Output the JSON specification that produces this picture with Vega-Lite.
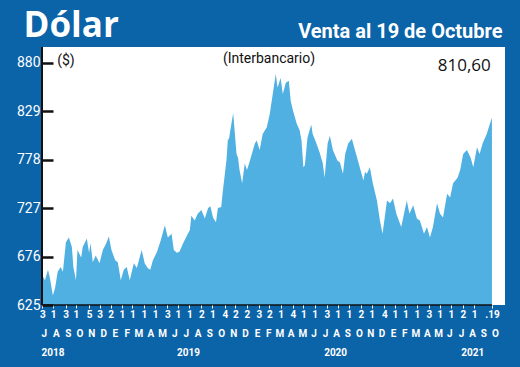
{
"$schema":"https://vega.github.io/schema/vega-lite/v6.json",
"width":463,"height":258,
"autosize":{"type":"none"},
"padding":{"left":42,"top":47,"right":15,"bottom":62},
"background":"#0b63a8",
"config":{"view":{"fill":"white","stroke":null},"axis":{"grid":false,"labelOverlap":false,"labelFlush":false}},
"encoding":{"y":{"field":"v","type":"quantitative","scale":{"domain":[625,896.5],"nice":false,"zero":false},
  "axis":{"values":[625,676,727,778,829,880],"title":null,"offset":-11,"tickSize":11,"tickWidth":2.5,"tickColor":"#111111","labelPadding":2,"labelColor":"white","labelFont":"Roboto","labelFontSize":14,"domain":false,"zindex":2}}},
"layer":[
{"data":{"values":[
{"d":"2018-07-03","v":656},{"d":"2018-07-10","v":651},{"d":"2018-07-18","v":662},{"d":"2018-07-23","v":654},{"d":"2018-07-31","v":635},
{"d":"2018-08-06","v":643},{"d":"2018-08-13","v":660},{"d":"2018-08-21","v":665},{"d":"2018-08-27","v":660},{"d":"2018-09-04","v":691},
{"d":"2018-09-12","v":696},{"d":"2018-09-20","v":686},{"d":"2018-09-24","v":665},{"d":"2018-10-01","v":651},{"d":"2018-10-05","v":683},
{"d":"2018-10-15","v":675},{"d":"2018-10-19","v":686},{"d":"2018-10-30","v":695},{"d":"2018-11-05","v":680},{"d":"2018-11-09","v":690},
{"d":"2018-11-15","v":670},{"d":"2018-11-23","v":677},{"d":"2018-12-03","v":669},{"d":"2018-12-12","v":683},{"d":"2018-12-21","v":690},
{"d":"2018-12-28","v":697},{"d":"2019-01-04","v":683},{"d":"2019-01-14","v":672},{"d":"2019-01-21","v":670},{"d":"2019-01-29","v":651},
{"d":"2019-02-06","v":662},{"d":"2019-02-14","v":665},{"d":"2019-02-22","v":651},{"d":"2019-03-05","v":669},{"d":"2019-03-13","v":664},
{"d":"2019-03-26","v":683},{"d":"2019-04-03","v":669},{"d":"2019-04-11","v":664},{"d":"2019-04-18","v":662},{"d":"2019-04-25","v":672},
{"d":"2019-05-06","v":681},{"d":"2019-05-16","v":693},{"d":"2019-05-27","v":709},{"d":"2019-06-04","v":696},{"d":"2019-06-14","v":700},
{"d":"2019-06-20","v":683},{"d":"2019-06-28","v":680},{"d":"2019-07-05","v":681},{"d":"2019-07-15","v":690},{"d":"2019-07-25","v":698},
{"d":"2019-08-02","v":704},{"d":"2019-08-06","v":719},{"d":"2019-08-15","v":714},{"d":"2019-08-23","v":721},{"d":"2019-09-02","v":725},
{"d":"2019-09-11","v":716},{"d":"2019-09-20","v":727},{"d":"2019-09-26","v":729},{"d":"2019-10-03","v":717},{"d":"2019-10-11","v":712},
{"d":"2019-10-16","v":727},{"d":"2019-10-25","v":728},{"d":"2019-10-29","v":744},{"d":"2019-11-08","v":777},{"d":"2019-11-12","v":801},
{"d":"2019-11-14","v":798},{"d":"2019-11-26","v":827},{"d":"2019-12-05","v":784},{"d":"2019-12-09","v":780},{"d":"2019-12-13","v":767},
{"d":"2019-12-20","v":753},{"d":"2019-12-27","v":774},{"d":"2020-01-02","v":767},{"d":"2020-01-10","v":777},{"d":"2020-01-23","v":795},
{"d":"2020-01-28","v":798},{"d":"2020-02-05","v":788},{"d":"2020-02-13","v":805},{"d":"2020-02-24","v":812},{"d":"2020-03-03","v":826},
{"d":"2020-03-11","v":847},{"d":"2020-03-19","v":868},{"d":"2020-03-24","v":854},{"d":"2020-04-01","v":864},{"d":"2020-04-07","v":847},
{"d":"2020-04-15","v":859},{"d":"2020-04-23","v":861},{"d":"2020-04-28","v":840},{"d":"2020-05-04","v":830},{"d":"2020-05-14","v":816},
{"d":"2020-05-22","v":809},{"d":"2020-05-27","v":798},{"d":"2020-06-01","v":770},{"d":"2020-06-05","v":772},{"d":"2020-06-12","v":801},
{"d":"2020-06-22","v":815},{"d":"2020-06-26","v":805},{"d":"2020-07-06","v":795},{"d":"2020-07-15","v":785},{"d":"2020-07-23","v":774},
{"d":"2020-07-28","v":759},{"d":"2020-08-05","v":795},{"d":"2020-08-11","v":803},{"d":"2020-08-19","v":788},{"d":"2020-08-31","v":777},
{"d":"2020-09-07","v":775},{"d":"2020-09-15","v":763},{"d":"2020-09-21","v":784},{"d":"2020-09-29","v":795},{"d":"2020-10-09","v":800},
{"d":"2020-10-15","v":791},{"d":"2020-10-23","v":780},{"d":"2020-10-30","v":770},{"d":"2020-11-09","v":756},{"d":"2020-11-13","v":765},
{"d":"2020-11-18","v":763},{"d":"2020-11-26","v":770},{"d":"2020-12-04","v":753},{"d":"2020-12-15","v":735},{"d":"2020-12-23","v":714},
{"d":"2020-12-30","v":700},{"d":"2021-01-11","v":735},{"d":"2021-01-19","v":732},{"d":"2021-01-27","v":737},{"d":"2021-02-05","v":721},
{"d":"2021-02-18","v":707},{"d":"2021-03-05","v":735},{"d":"2021-03-12","v":721},{"d":"2021-03-22","v":730},{"d":"2021-04-01","v":716},
{"d":"2021-04-09","v":714},{"d":"2021-04-20","v":700},{"d":"2021-04-28","v":707},{"d":"2021-05-06","v":696},{"d":"2021-05-14","v":707},
{"d":"2021-05-25","v":732},{"d":"2021-06-02","v":721},{"d":"2021-06-10","v":717},{"d":"2021-06-21","v":742},{"d":"2021-06-29","v":738},
{"d":"2021-07-07","v":753},{"d":"2021-07-19","v":759},{"d":"2021-07-26","v":767},{"d":"2021-08-03","v":784},{"d":"2021-08-13","v":788},
{"d":"2021-08-23","v":780},{"d":"2021-08-30","v":770},{"d":"2021-09-09","v":791},{"d":"2021-09-16","v":784},{"d":"2021-09-24","v":795},
{"d":"2021-10-05","v":805},{"d":"2021-10-13","v":815},{"d":"2021-10-19","v":822}]},
 "mark":{"type":"area","color":"#50b0e2","clip":true},
 "encoding":{
  "x":{"field":"d","type":"temporal","scale":{"domain":[{"year":2018,"month":7,"date":2,"utc":true},{"year":2021,"month":11,"date":23,"utc":true}],"nice":false},
   "axis":{"orient":"bottom","title":null,"domain":false,"tickColor":"white","tickSize":3,"labelPadding":1,"labelColor":"white","labelFont":"Roboto","labelFontSize":10,"labelFontWeight":"bold","zindex":2,
    "labelExpr":"(utcmonth(datum.value)==9 && utcyear(datum.value)==2021 && utcdate(datum.value)==19) ? '.19' : ''+utcdate(datum.value)",
    "values":[
{"year":2018,"month":7,"date":3,"utc":true},{"year":2018,"month":8,"date":1,"utc":true},{"year":2018,"month":9,"date":3,"utc":true},{"year":2018,"month":10,"date":1,"utc":true},
{"year":2018,"month":11,"date":5,"utc":true},{"year":2018,"month":12,"date":3,"utc":true},{"year":2019,"month":1,"date":2,"utc":true},{"year":2019,"month":2,"date":1,"utc":true},
{"year":2019,"month":3,"date":1,"utc":true},{"year":2019,"month":4,"date":1,"utc":true},{"year":2019,"month":5,"date":1,"utc":true},{"year":2019,"month":6,"date":3,"utc":true},
{"year":2019,"month":7,"date":1,"utc":true},{"year":2019,"month":8,"date":1,"utc":true},{"year":2019,"month":9,"date":2,"utc":true},{"year":2019,"month":10,"date":1,"utc":true},
{"year":2019,"month":11,"date":4,"utc":true},{"year":2019,"month":12,"date":2,"utc":true},{"year":2020,"month":1,"date":2,"utc":true},{"year":2020,"month":2,"date":3,"utc":true},
{"year":2020,"month":3,"date":2,"utc":true},{"year":2020,"month":4,"date":1,"utc":true},{"year":2020,"month":5,"date":4,"utc":true},{"year":2020,"month":6,"date":1,"utc":true},
{"year":2020,"month":7,"date":1,"utc":true},{"year":2020,"month":8,"date":3,"utc":true},{"year":2020,"month":9,"date":1,"utc":true},{"year":2020,"month":10,"date":1,"utc":true},
{"year":2020,"month":11,"date":2,"utc":true},{"year":2020,"month":12,"date":1,"utc":true},{"year":2021,"month":1,"date":4,"utc":true},{"year":2021,"month":2,"date":1,"utc":true},
{"year":2021,"month":3,"date":1,"utc":true},{"year":2021,"month":4,"date":1,"utc":true},{"year":2021,"month":5,"date":3,"utc":true},{"year":2021,"month":6,"date":1,"utc":true},
{"year":2021,"month":7,"date":1,"utc":true},{"year":2021,"month":8,"date":2,"utc":true},{"year":2021,"month":9,"date":1,"utc":true},{"year":2021,"month":10,"date":19,"utc":true}]}},
  "y2":{"datum":625}}},
{"data":{"values":[{"d1":"2018-07-02","d2":"2021-10-19","v":625}]},
 "mark":{"type":"rule","color":"#111111","strokeWidth":1.5},
 "encoding":{
  "x":{"field":"d1","type":"temporal","scale":{"domain":[{"year":2018,"month":7,"date":2,"utc":true},{"year":2021,"month":11,"date":23,"utc":true}],"nice":false},
   "axis":{"orient":"bottom","title":null,"domain":false,"ticks":false,"labelPadding":23,"labelColor":"white","labelFont":"Roboto","labelFontSize":10,"labelFontWeight":"bold",
    "labelExpr":"['E','F','M','A','M','J','J','A','S','O','N','D'][utcmonth(datum.value)]",
    "values":[
{"year":2018,"month":7,"date":7,"utc":true},{"year":2018,"month":8,"date":8,"utc":true},{"year":2018,"month":9,"date":9,"utc":true},{"year":2018,"month":10,"date":10,"utc":true},
{"year":2018,"month":11,"date":11,"utc":true},{"year":2018,"month":12,"date":13,"utc":true},{"year":2019,"month":1,"date":13,"utc":true},{"year":2019,"month":2,"date":14,"utc":true},
{"year":2019,"month":3,"date":17,"utc":true},{"year":2019,"month":4,"date":18,"utc":true},{"year":2019,"month":5,"date":20,"utc":true},{"year":2019,"month":6,"date":21,"utc":true},
{"year":2019,"month":7,"date":22,"utc":true},{"year":2019,"month":8,"date":23,"utc":true},{"year":2019,"month":9,"date":23,"utc":true},{"year":2019,"month":10,"date":25,"utc":true},
{"year":2019,"month":11,"date":26,"utc":true},{"year":2019,"month":12,"date":28,"utc":true},{"year":2020,"month":1,"date":29,"utc":true},{"year":2020,"month":2,"date":28,"utc":true},
{"year":2020,"month":3,"date":29,"utc":true},{"year":2020,"month":4,"date":28,"utc":true},{"year":2020,"month":5,"date":29,"utc":true},{"year":2020,"month":6,"date":28,"utc":true},
{"year":2020,"month":7,"date":29,"utc":true},{"year":2020,"month":8,"date":28,"utc":true},{"year":2020,"month":9,"date":27,"utc":true},{"year":2020,"month":10,"date":28,"utc":true},
{"year":2020,"month":11,"date":27,"utc":true},{"year":2020,"month":12,"date":27,"utc":true},{"year":2021,"month":1,"date":27,"utc":true},{"year":2021,"month":2,"date":26,"utc":true},
{"year":2021,"month":3,"date":28,"utc":true},{"year":2021,"month":4,"date":28,"utc":true},{"year":2021,"month":5,"date":28,"utc":true},{"year":2021,"month":6,"date":27,"utc":true},
{"year":2021,"month":7,"date":28,"utc":true},{"year":2021,"month":8,"date":27,"utc":true},{"year":2021,"month":9,"date":26,"utc":true},{"year":2021,"month":10,"date":27,"utc":true}]}},
  "x2":{"field":"d2"}}},
{"data":{"values":[{"d":"2018-07-02","v":625,"v2":896.5}]},
 "mark":{"type":"rule","color":"#111111","strokeWidth":2},
 "encoding":{
  "x":{"field":"d","type":"temporal","scale":{"domain":[{"year":2018,"month":7,"date":2,"utc":true},{"year":2021,"month":11,"date":23,"utc":true}],"nice":false},"axis":null},
  "y2":{"field":"v2"}}},
{"data":{"values":[{"d":"2020-03-01","v":884,"t":"(Interbancario)"}]},
 "mark":{"type":"text","font":"Roboto","fontSize":14,"color":"#111111","align":"center","baseline":"middle"},
 "encoding":{
  "x":{"field":"d","type":"temporal","scale":{"domain":[{"year":2018,"month":7,"date":2,"utc":true},{"year":2021,"month":11,"date":23,"utc":true}],"nice":false},
   "axis":{"orient":"bottom","title":null,"domain":false,"ticks":false,"labelPadding":42,"labelColor":"white","labelFont":"Roboto","labelFontSize":10,"labelFontWeight":"bold",
    "labelExpr":"''+utcyear(datum.value)",
    "values":[{"year":2018,"month":7,"date":30,"utc":true},{"year":2019,"month":7,"date":28,"utc":true},{"year":2020,"month":8,"date":25,"utc":true},{"year":2021,"month":8,"date":27,"utc":true}]}},
  "text":{"field":"t"}}},
{"data":{"values":[{"d":"2018-09-04","v":882,"t":"($)"}]},
 "mark":{"type":"text","font":"Roboto","fontSize":14,"color":"#111111","align":"center","baseline":"middle"},
 "encoding":{
  "x":{"field":"d","type":"temporal","scale":{"domain":[{"year":2018,"month":7,"date":2,"utc":true},{"year":2021,"month":11,"date":23,"utc":true}],"nice":false},
   "axis":{"orient":"top","title":"Dólar","domain":false,"ticks":false,"labels":false,"values":[{"year":2019,"month":1,"date":1,"utc":true}],
    "titleColor":"white","titleFont":"Open Sans","titleFontSize":35,"titleFontWeight":"bold","titleAlign":"left","titleBaseline":"alphabetic","titleX":-19,"titleY":-11}},
  "text":{"field":"t"}}},
{"data":{"values":[{"d":"2021-08-06","v":877,"t":"810,60"}]},
 "mark":{"type":"text","font":"Open Sans","fontSize":17,"color":"#111111","align":"center","baseline":"middle"},
 "encoding":{
  "x":{"field":"d","type":"temporal","scale":{"domain":[{"year":2018,"month":7,"date":2,"utc":true},{"year":2021,"month":11,"date":23,"utc":true}],"nice":false},
   "axis":{"orient":"top","title":"Venta al 19 de Octubre","domain":false,"ticks":false,"labels":false,"values":[{"year":2019,"month":1,"date":1,"utc":true}],
    "titleColor":"white","titleFont":"Roboto","titleFontSize":20,"titleFontWeight":"bold","titleAlign":"right","titleBaseline":"alphabetic","titleX":460,"titleY":-10}},
  "text":{"field":"t"}}}
],
"resolve":{"axis":{"x":"independent"}}
}
